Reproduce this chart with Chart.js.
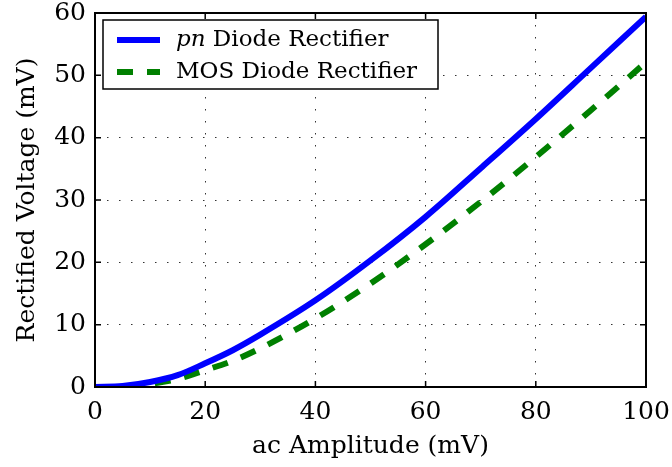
<!DOCTYPE html>
<html>
<head>
<meta charset="utf-8">
<script src="https://cdn.jsdelivr.net/npm/chart.js@4"></script>
<style>
  html, body { margin: 0; padding: 0; background: #fff; }
  #wrap { width: 672px; height: 467px; }
</style>
</head>
<body>
<div id="wrap"><canvas id="grafico" width="672" height="467"></canvas></div>
<script>
const amplitude = [0, 5, 10, 15, 20, 25, 30, 40, 50, 60, 70, 80, 90, 100];
const pnDiodo = [0, 0.15, 0.8, 1.9, 3.8, 5.9, 8.4, 13.9, 20.3, 27.3, 35.1, 43.0, 51.2, 59.4];
const mosDiodo = [0, 0.05, 0.5, 1.3, 2.7, 4.2, 6.2, 11.0, 16.6, 22.9, 29.7, 36.9, 44.4, 52.1];
const ticksX = [0, 20, 40, 60, 80, 100];
const ticksY = [0, 10, 20, 30, 40, 50, 60];

const fonte = '"DejaVu Serif", "Liberation Serif", serif';

function pontos(valores) {
  return amplitude.map((a, i) => ({ x: a, y: valores[i] }));
}

// caixa preta em volta da area + marcas de tick para dentro (estilo matlab)
const caixaPlugin = {
  id: 'caixa',
  afterDatasetsDraw(chart) {
    const { ctx, chartArea: a, scales } = chart;
    ctx.save();
    ctx.strokeStyle = '#000';
    ctx.lineWidth = 1.5;
    ctx.beginPath();
    ticksX.forEach(v => {
      const px = scales.x.getPixelForValue(v);
      ctx.moveTo(px, a.bottom); ctx.lineTo(px, a.bottom - 6);
      ctx.moveTo(px, a.top); ctx.lineTo(px, a.top + 6);
    });
    ticksY.forEach(v => {
      const py = scales.y.getPixelForValue(v);
      ctx.moveTo(a.left, py); ctx.lineTo(a.left + 6, py);
      ctx.moveTo(a.right, py); ctx.lineTo(a.right - 6, py);
    });
    ctx.stroke();
    ctx.lineWidth = 2;
    ctx.strokeRect(a.left, a.top, a.right - a.left, a.bottom - a.top);
    ctx.restore();
  }
};

// legenda desenhada dentro do grafico
const legendaPlugin = {
  id: 'legendaInterna',
  afterDraw(chart) {
    const { ctx, chartArea: a } = chart;
    const x0 = a.left + 8, y0 = a.top + 7, w = 335, h = 69;
    ctx.save();
    ctx.fillStyle = '#fff';
    ctx.fillRect(x0, y0, w, h);
    ctx.strokeStyle = '#000';
    ctx.lineWidth = 1.5;
    ctx.strokeRect(x0, y0, w, h);

    chart.data.datasets.forEach((ds, i) => {
      const y = y0 + 20 + i * 32;
      ctx.strokeStyle = ds.borderColor;
      ctx.lineWidth = ds.borderWidth;
      ctx.setLineDash(ds.borderDash || []);
      ctx.beginPath();
      ctx.moveTo(x0 + 14, y);
      ctx.lineTo(x0 + 57, y);
      ctx.stroke();
      ctx.setLineDash([]);

      ctx.fillStyle = '#000';
      ctx.textBaseline = 'middle';
      let tx = x0 + 73;
      if (ds.italico) {
        ctx.font = 'italic 23px ' + fonte;
        ctx.fillText(ds.italico, tx, y);
        tx += ctx.measureText(ds.italico).width;
      }
      ctx.font = '23px ' + fonte;
      ctx.fillText(ds.label, tx, y);
    });
    ctx.restore();
  }
};

const ctx = document.getElementById('grafico').getContext('2d');

new Chart(ctx, {
  type: 'line',
  data: {
    datasets: [
      {
        label: ' Diode Rectifier',
        italico: 'pn',
        data: pontos(pnDiodo),
        borderColor: '#0000ff',
        borderWidth: 6,
        pointRadius: 0,
        cubicInterpolationMode: 'monotone'
      },
      {
        label: 'MOS Diode Rectifier',
        data: pontos(mosDiodo),
        borderColor: '#008000',
        borderWidth: 6,
        borderDash: [16, 14],
        borderCapStyle: 'butt',
        pointRadius: 0,
        cubicInterpolationMode: 'monotone'
      }
    ]
  },
  options: {
    responsive: false,
    animation: false,
    layout: { padding: { top: 13, right: 26, left: 0, bottom: 0 } },
    plugins: { legend: { display: false }, tooltip: { enabled: false } },
    scales: {
      x: {
        type: 'linear',
        min: 0,
        max: 100,
        afterBuildTicks: s => { s.ticks = ticksX.map(v => ({ value: v })); },
        afterFit: s => { s.height = 80; s.paddingLeft = 0; s.paddingRight = 0; },
        grid: { color: '#333', lineWidth: 1, drawTicks: false },
        border: { display: false, dash: [1.5, 10.5] },
        ticks: { color: '#000', font: { family: fonte, size: 25 }, padding: 10, maxRotation: 0 },
        title: { display: true, text: 'ac Amplitude (mV)', color: '#000', font: { family: fonte, size: 25 }, padding: { top: 0, bottom: 6 } }
      },
      y: {
        min: 0,
        max: 60,
        afterBuildTicks: s => { s.ticks = ticksY.map(v => ({ value: v })); },
        afterFit: s => { s.width = 95; s.paddingTop = 0; s.paddingBottom = 0; },
        grid: { color: '#333', lineWidth: 1, drawTicks: false },
        border: { display: false, dash: [1.5, 10.5] },
        ticks: { color: '#000', font: { family: fonte, size: 25 }, padding: 9 },
        title: { display: true, text: 'Rectified Voltage (mV)', color: '#000', font: { family: fonte, size: 25 }, padding: { top: 12, bottom: 0 } }
      }
    }
  },
  plugins: [caixaPlugin, legendaPlugin]
});
</script>
</body>
</html>
